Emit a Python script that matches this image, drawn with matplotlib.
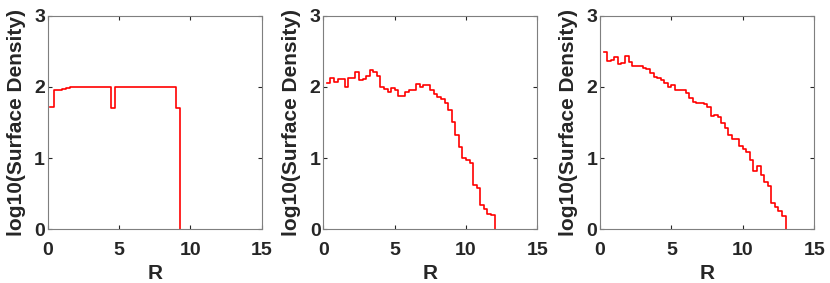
import numpy as np
import matplotlib.pyplot as plt

plt.rcParams['font.family'] = ['Liberation Sans', 'DejaVu Sans']
plt.rcParams['font.weight'] = 'bold'

# panel 1: flat disk, bins of ~0.284 starting at 0.16
edges1_start, edges1_width = 0.16, 0.284
dens1 = [1.71, 1.95, 1.96, 1.97, 1.98, 1.99, 2.0, 2.0, 2.0, 2.0, 2.0, 2.0,
         2.0, 2.0, 2.0, 1.70, 2.0, 2.0, 2.0, 2.0, 2.0, 2.0, 2.0, 2.0,
         2.0, 2.0, 2.0, 2.0, 2.0, 2.0, 2.0, 1.70]

# panel 2: bins of 0.25 starting at 0.25
edges2_start, edges2_width = 0.25, 0.25
dens2 = [2.06, 2.13, 2.07, 2.11, 2.11, 2.00, 2.12, 2.13, 2.21, 2.10, 2.11,
         2.15, 2.24, 2.21, 2.15,
         1.99, 1.97, 1.92, 1.98, 1.95, 1.87, 1.87, 1.93, 1.96, 1.95, 2.04, 2.00,
         2.02, 2.02, 1.95, 1.90, 1.86, 1.83, 1.77, 1.68, 1.50, 1.32, 1.16, 1.00,
         0.97, 0.93, 0.62, 0.58, 0.34, 0.29, 0.22, 0.20]

# panel 3: bins of 0.25 starting at 0.25
edges3_start, edges3_width = 0.25, 0.25
dens3 = [2.49, 2.36, 2.37, 2.42, 2.32, 2.33, 2.43, 2.35, 2.29, 2.29, 2.29,
         2.26, 2.25, 2.20, 2.14, 2.12, 2.10, 2.06, 2.00, 2.02, 1.96, 1.96,
         1.95, 1.91, 1.84, 1.79, 1.77, 1.77, 1.76, 1.71, 1.59, 1.61, 1.57,
         1.49, 1.42, 1.32, 1.26, 1.26, 1.17, 1.12, 1.09, 0.97, 0.82, 0.89,
         0.76, 0.66, 0.61, 0.37, 0.31, 0.25, 0.19]

panels = [(edges1_start, edges1_width, dens1),
          (edges2_start, edges2_width, dens2),
          (edges3_start, edges3_width, dens3)]

fig = plt.figure(figsize=(8.3, 2.83), dpi=100)
lefts = [0.0575, 0.3895, 0.7229]
axcol = '#262626'

for left, (x0, w, d) in zip(lefts, panels):
    ax = fig.add_axes([left, 0.19, 0.258, 0.755])
    x = x0 + w * np.arange(len(d) + 1)
    y = list(d) + [0]
    ax.step(x, y, where='post', color='red', lw=1.2)
    ax.set_xlim(0, 15)
    ax.set_ylim(0, 3)
    ax.set_xticks([0, 5, 10, 15])
    ax.set_yticks([0, 1, 2, 3])
    ax.tick_params(direction='in', length=3, width=0.8, top=True, right=True,
                   labelsize=14, colors=axcol, labelcolor=axcol)
    ax.tick_params(axis='x', pad=9)
    ax.tick_params(axis='y', pad=2)
    for s in ax.spines.values():
        s.set_color('#7f7f7f')
        s.set_linewidth(0.8)
    ax.set_xlabel('R', fontsize=15, fontweight='bold', color=axcol, labelpad=4)
    ax.set_ylabel('log10(Surface Density)', fontsize=15, fontweight='bold',
                  color=axcol, labelpad=6)

fig.savefig('out.png', dpi=100)
